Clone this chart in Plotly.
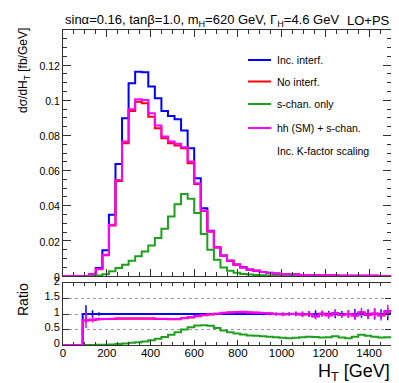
import numpy as np
import plotly.graph_objects as go

# ---- data (30 GeV bins, 0-1500 GeV) ----
BIN_WIDTH = 30
HT_MAX = 1500

xs_inc_interf = [
    0, 0, 0, 0, 0.0008, 0.0045, 0.0146, 0.0348, 0.0638, 0.0898,
    0.1097, 0.1163, 0.1159, 0.1078, 0.1011, 0.0939, 0.0911, 0.0892, 0.0828, 0.0727,
    0.0557, 0.0386, 0.0257, 0.0163, 0.0116, 0.0087, 0.0065, 0.0050, 0.0037, 0.0030,
    0.0023, 0.0018, 0.0014, 0.0011, 0.0009, 0.0008, 0.0006, 0.0005, 0.0004, 0.00035,
    0.0003, 0.00025, 0.0002, 0.00017, 0.00014, 0.00012, 0.0001, 0.00008, 0.00007, 0.00006,
]
xs_no_interf = [
    0, 0, 0, 0, 0.0010, 0.0038, 0.0118, 0.0288, 0.0540, 0.0755,
    0.0939, 0.0992, 0.0983, 0.0907, 0.0841, 0.0784, 0.0756, 0.0742, 0.0727, 0.0642,
    0.0523, 0.0370, 0.0252, 0.0162, 0.0115, 0.0087, 0.0064, 0.0049, 0.0036, 0.0030,
    0.0023, 0.0017, 0.0013, 0.0010, 0.0009, 0.0008, 0.0006, 0.0005, 0.0004, 0.00035,
    0.0003, 0.00025, 0.0002, 0.00017, 0.00014, 0.00012, 0.0001, 0.00008, 0.00007, 0.00006,
]
xs_schan = [
    0, 0, 0, 0, 0, 0.0003, 0.0010, 0.0027, 0.0045, 0.0064,
    0.0087, 0.0112, 0.0140, 0.0174, 0.0216, 0.0269, 0.0339, 0.0409, 0.0466, 0.0439,
    0.0358, 0.0239, 0.0150, 0.0093, 0.0049, 0.0030, 0.0019, 0.0012, 0.0008, 0.0006,
    0.0004, 0.0003, 0.00025, 0.0002, 0.00015, 0.00012, 0.0001, 0.00008, 0.00006, 0.00005,
    0.00004, 0.00003, 0.00003, 0.00002, 0.00002, 0.00002, 0.00002, 0.00001, 0.00001, 0.00001,
]
xs_hh_schan = [
    0, 0, 0, 0, 0.0011, 0.0040, 0.0121, 0.0292, 0.0547, 0.0765,
    0.0949, 0.1006, 0.1002, 0.0926, 0.0856, 0.0794, 0.0765, 0.0752, 0.0733, 0.0652,
    0.0528, 0.0373, 0.0254, 0.0163, 0.0115, 0.0087, 0.0064, 0.0049, 0.0036, 0.0030,
    0.0023, 0.0017, 0.0013, 0.0010, 0.0009, 0.0008, 0.0006, 0.0005, 0.0004, 0.00035,
    0.0003, 0.00025, 0.0002, 0.00017, 0.00014, 0.00012, 0.0001, 0.00008, 0.00007, 0.00006,
]

# ratio to "Inc. interf."
ratio_inc = [0, 0, 0] + [1.0] * 47
ratio_inc_err = [
    0, 0, 0, 0.28, 0.12, 0.06, 0.02, 0.01, 0.01, 0.01,
    0.01, 0.01, 0.01, 0.01, 0.01, 0.01, 0.01, 0.01, 0.01, 0.01,
    0.01, 0.02, 0.02, 0.02, 0.02, 0.02, 0.03, 0.03, 0.03, 0.03,
    0.04, 0.04, 0.05, 0.05, 0.06, 0.07, 0.08, 0.1, 0.12, 0.08,
    0.1, 0.14, 0.1, 0.12, 0.16, 0.12, 0.15, 0.18, 0.15, 0.2,
]
ratio_no = [
    0, 0, 0, 0.79, 0.81, 0.83, 0.84, 0.84, 0.85, 0.85,
    0.85, 0.85, 0.85, 0.85, 0.84, 0.84, 0.83, 0.83, 0.86, 0.89,
    0.93, 0.96, 0.98, 1.01, 1.03, 1.05, 1.06, 1.06, 1.05, 1.04,
    1.03, 1.02, 1.0, 0.99, 1.0, 1.0, 0.98, 0.99, 0.93, 1.0,
    0.96, 1.02, 0.97, 0.99, 0.95, 1.04, 0.97, 1.01, 0.96, 1.07,
]
ratio_hh = [
    0, 0, 0, 0.80, 0.82, 0.84, 0.84, 0.85, 0.86, 0.86,
    0.86, 0.86, 0.86, 0.86, 0.85, 0.85, 0.84, 0.84, 0.87, 0.90,
    0.94, 0.97, 0.99, 1.01, 1.04, 1.05, 1.06, 1.07, 1.05, 1.04,
    1.03, 1.02, 1.0, 0.99, 1.0, 1.01, 0.98, 1.0, 0.92, 1.02,
    0.96, 1.03, 0.97, 1.0, 0.95, 1.06, 0.98, 1.02, 0.95, 1.1,
]
ratio_hh_err = [
    0, 0, 0, 0.25, 0.1, 0.05, 0.02, 0.01, 0.01, 0.01,
    0.01, 0.01, 0.01, 0.01, 0.01, 0.01, 0.01, 0.01, 0.01, 0.01,
    0.01, 0.02, 0.02, 0.02, 0.03, 0.03, 0.03, 0.03, 0.04, 0.04,
    0.04, 0.05, 0.05, 0.06, 0.06, 0.07, 0.08, 0.1, 0.1, 0.09,
    0.11, 0.12, 0.1, 0.13, 0.14, 0.14, 0.15, 0.17, 0.16, 0.2,
]
ratio_schan = [
    0, 0, 0, 0, 0, 0.005, 0.01, 0.02, 0.03, 0.05,
    0.07, 0.09, 0.11, 0.15, 0.20, 0.26, 0.33, 0.41, 0.50, 0.57,
    0.63, 0.64, 0.62, 0.55, 0.47, 0.41, 0.37, 0.34, 0.31, 0.30,
    0.28, 0.27, 0.25, 0.23, 0.22, 0.23, 0.25, 0.27, 0.26, 0.24,
    0.25, 0.28, 0.24, 0.22, 0.27, 0.33, 0.30, 0.27, 0.24, 0.25,
]

labels = ["Inc. interf.", "No interf.", "s-chan. only", "hh (SM) + s-chan."]
colors = ["#0000ff", "#ff0000", "#1ea01e", "#ff00ff"]

W, H = 399, 383
FONT = "Liberation Sans, Arial, sans-serif"


def fx(px):
    return px / W


def fy(py):
    return 1 - py / H


edges = np.arange(0, HT_MAX + BIN_WIDTH, BIN_WIDTH)
centres = edges[:-1] + BIN_WIDTH / 2


def step_trace(vals, color, xaxis, yaxis):
    y = list(vals) + [vals[-1]]
    return go.Scatter(x=edges, y=y, mode="lines", line=dict(color=color, width=2, shape="hv"),
                      xaxis=xaxis, yaxis=yaxis, showlegend=False, hoverinfo="skip")


fig = go.Figure()

main_series = [xs_inc_interf, xs_no_interf, xs_schan, xs_hh_schan]
for vals, col in zip(main_series, colors):
    fig.add_trace(step_trace(vals, col, "x", "y"))

ratio_series = [ratio_inc, ratio_no, ratio_schan, ratio_hh]
for vals, col in zip(ratio_series, colors):
    fig.add_trace(step_trace(vals, col, "x2", "y2"))

# ratio error bars
for vals, err, col in [(ratio_inc, ratio_inc_err, colors[0]), (ratio_hh, ratio_hh_err, colors[3])]:
    fig.add_trace(go.Scatter(
        x=centres, y=vals, mode="markers", marker=dict(size=1, color=col),
        error_y=dict(type="data", array=err, visible=True, color=col, thickness=1.5, width=0),
        xaxis="x2", yaxis="y2", showlegend=False, hoverinfo="skip"))

frame = dict(showline=True, linecolor="#333", linewidth=1, mirror="ticks",
             ticks="inside", tickcolor="#333", zeroline=False)

fig.update_layout(
    width=W, height=H,
    margin=dict(l=0, r=0, t=0, b=0, autoexpand=False),
    paper_bgcolor="white", plot_bgcolor="white",
    font=dict(family=FONT, color="black", size=10),
    xaxis=dict(domain=[fx(55), fx(383)], range=[0, HT_MAX], anchor="y",
               showticklabels=False, dtick=200, ticklen=7, showgrid=False,
               minor=dict(dtick=50, ticklen=4, ticks="inside", tickcolor="#333"), **frame),
    yaxis=dict(domain=[fy(268), fy(22)], range=[0, 0.14], anchor="x",
               tickvals=[0, 0.02, 0.04, 0.06, 0.08, 0.1, 0.12],
               ticktext=["0", "0.02", "0.04", "0.06", "0.08", "0.1", "0.12"],
               ticklen=8, tickfont=dict(size=10.5), showgrid=False, ticklabelshift=1,
               minor=dict(dtick=0.005, ticklen=4, ticks="inside", tickcolor="#333"), **frame),
    xaxis2=dict(domain=[fx(55), fx(383)], range=[0, HT_MAX], anchor="y2",
                dtick=200, ticklen=5, tickfont=dict(size=11.5), showgrid=False,
                ticklabelstandoff=-3,
                minor=dict(dtick=50, ticklen=3, ticks="inside", tickcolor="#333"), **frame),
    yaxis2=dict(domain=[fy(337), fy(275)], range=[0, 2], anchor="x2",
                tickvals=[0, 0.5, 1, 1.5, 2], ticktext=["0", "0.5", "1", "1.5", "2"],
                ticklen=6, tickfont=dict(size=11), ticklabelshift=-2,
                showgrid=True, gridcolor="#999", griddash="dot", gridwidth=1, **frame),
)

ann = [
    dict(text="sinα=0.16, tanβ=1.0, m<sub>H</sub>=620 GeV, Γ<sub>H</sub>=4.6 GeV",
         x=fx(55), y=fy(12), xanchor="left", yanchor="middle", font=dict(size=13)),
    dict(text="LO+PS", x=fx(384), y=fy(12), xanchor="right", yanchor="middle", font=dict(size=13)),
    dict(text="dσ/dH<sub>T</sub> [fb/GeV]", x=fx(16), y=fy(63), textangle=-90,
         xanchor="center", yanchor="middle", font=dict(size=12)),
    dict(text="Ratio", x=fx(15), y=fy(292), textangle=-90,
         xanchor="center", yanchor="middle", font=dict(size=14)),
    dict(text="H<sub>T</sub> [GeV]", x=fx(384), y=fy(364), xanchor="right", yanchor="middle",
         font=dict(size=18)),
    dict(text="Inc. K-factor scaling", x=fx(267), y=fy(143), xanchor="left", yanchor="middle",
         font=dict(size=10.5)),
]

# legend drawn by hand to match the ROOT layout
leg_rows = [52, 73.5, 96, 120]
shapes = []
for lab, col, ry in zip(labels, colors, leg_rows):
    shapes.append(dict(type="line", xref="paper", yref="paper", x0=fx(240), x1=fx(263),
                       y0=fy(ry), y1=fy(ry), line=dict(color=col, width=2)))
    ann.append(dict(text=lab, x=fx(267), y=fy(ry), xanchor="left", yanchor="middle",
                    font=dict(size=10.5)))

for a in ann:
    a.update(xref="paper", yref="paper", showarrow=False)

fig.update_layout(annotations=ann, shapes=shapes)

fig.write_html("out.html")
